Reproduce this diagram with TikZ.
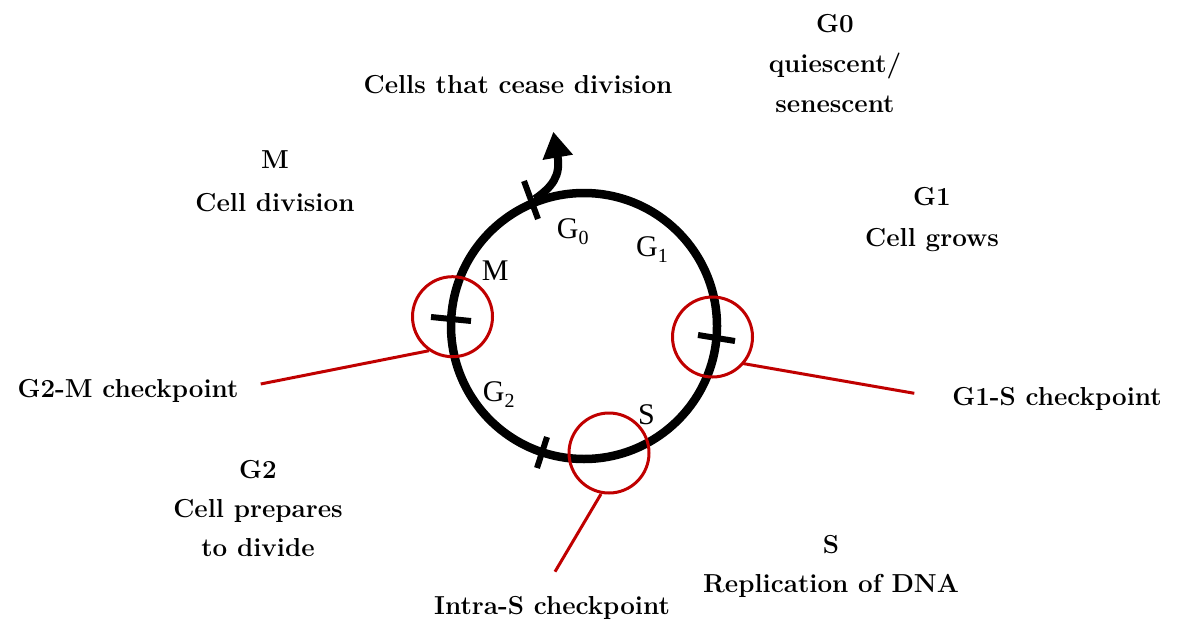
\documentclass[tikz,border=0pt]{standalone}
\usepackage{fontspec}
\newfontfamily\phfont{Liberation Serif}
\usetikzlibrary{arrows.meta}
\definecolor{cred}{RGB}{192,0,0}
\newcommand{\phsub}[1]{\raisebox{-6pt}{\fontsize{20}{22}\selectfont #1}}
\begin{document}
\begin{tikzpicture}[x=1pt,y=-1pt,
  lbl/.style={font=\bfseries\fontsize{26}{30}\selectfont, anchor=base, inner sep=0pt},
  ph/.style={font=\phfont\fontsize{30}{34}\selectfont, anchor=base west, inner sep=0pt},
  chk/.style={draw=cred, line width=3pt, circle, minimum size=80pt, inner sep=0pt},
  redline/.style={cred, line width=3pt},
  tickmark/.style={line width=6pt}]
\useasboundingbox (0,0) rectangle (1177,623);

% cycle
\node[draw, circle, line width=8.5pt, minimum size=266pt, inner sep=0pt] (cyc) at (584,326) {};

% exit arrow
\coordinate (ex0) at (535,199);
\coordinate (ex1) at (553.3,131.7);
\draw[line width=8pt, -{Triangle[width=29pt,length=26pt]}] (ex0) .. controls (552,187) and (561,176) .. (ex1);

% ticks
\coordinate (t1a) at (524,181); \coordinate (t1b) at (538,219);
\coordinate (t2a) at (431,317); \coordinate (t2b) at (471,321);
\coordinate (t3a) at (698,335); \coordinate (t3b) at (735,341);
\coordinate (t4a) at (547,437); \coordinate (t4b) at (537,468);
\draw[tickmark] (t1a) -- (t1b);
\draw[tickmark] (t2a) -- (t2b);
\draw[tickmark] (t3a) -- (t3b);
\draw[tickmark] (t4a) -- (t4b);

% checkpoint circles
\node[chk] (chkM) at (452.5,316.7) {};
\node[chk] (chkGS) at (712.5,337) {};
\node[chk] (chkS) at (609,453) {};

% red connectors
\coordinate (lM1) at (260.7,384); \coordinate (lM2) at (429,350.7);
\coordinate (lG1) at (741.7,363.3); \coordinate (lG2) at (914.3,393.3);
\coordinate (lS1) at (601,494); \coordinate (lS2) at (555,571.7);
\draw[redline] (lM1) -- (lM2);
\draw[redline] (lG1) -- (lG2);
\draw[redline] (lS1) -- (lS2);

% phase labels on the cycle
\node[ph] (pG0) at (556.7,238) {G\phsub{0}};
\node[ph] (pG1) at (636,256.7) {G\phsub{1}};
\node[ph] (pM) at (481.7,280) {M};
\node[ph] (pG2) at (482.7,401.7) {G\phsub{2}};
\node[ph] (pS) at (638,424) {S};

% outer labels
\node[lbl] (cease) at (518,93.5) {Cells that cease division};
\node[lbl] (g0a) at (835,33) {G0};
\node[lbl] (g0b) at (835,73) {quiescent/};
\node[lbl] (g0c) at (835,113) {senescent};
\node[lbl] (ma) at (275,168) {M};
\node[lbl] (mb) at (275,211) {Cell division};
\node[lbl] (g1a) at (932,205) {G1};
\node[lbl] (g1b) at (932,246) {Cell grows};
\node[lbl] (g2m) at (128,397) {G2-M checkpoint};
\node[lbl] (g1s) at (1057,405) {G1-S checkpoint};
\node[lbl] (g2a) at (258,478) {G2};
\node[lbl] (g2b) at (258,517) {Cell prepares};
\node[lbl] (g2c) at (258,556) {to divide};
\node[lbl] (sa) at (831,553) {S};
\node[lbl] (sb) at (831,592) {Replication of DNA};
\node[lbl] (ints) at (552,614) {Intra-S checkpoint};
\end{tikzpicture}
\end{document}
